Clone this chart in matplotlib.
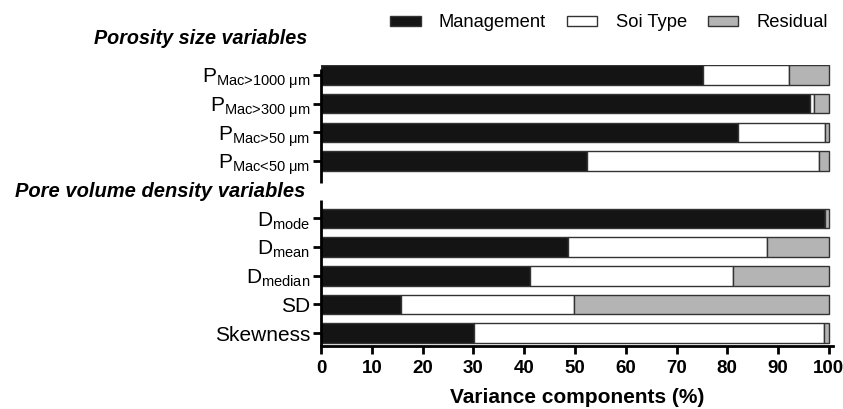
import matplotlib
matplotlib.use("Agg")
import matplotlib.pyplot as plt
import numpy as np

plt.rcParams['font.family'] = ['Liberation Sans', 'DejaVu Sans']
plt.rcParams['mathtext.fontset'] = 'custom'
plt.rcParams['mathtext.rm'] = 'Liberation Sans'
plt.rcParams['mathtext.it'] = 'Liberation Sans:italic'

# variance components (%)
labels = [r'P$_{\text{Mac>1000 μm}}$', r'P$_{\text{Mac>300 μm}}$',
          r'P$_{\text{Mac>50 μm}}$', r'P$_{\text{Mac<50 μm}}$',
          r'D$_{\mathrm{mode}}$', r'D$_{\mathrm{mean}}$', r'D$_{\mathrm{median}}$',
          'SD', 'Skewness']
management = [75.2, 96.3, 82.2, 52.3, 99.3, 48.6, 41.2, 15.7, 30.2]
soil_type = [16.9, 0.8, 17.0, 45.8, 0.0, 39.3, 40.0, 34.2, 68.9]
residual = [7.9, 2.9, 0.8, 1.9, 0.7, 12.1, 18.8, 50.1, 0.9]

# slot 4 left empty for the second group heading
ypos = np.array([0, 1, 2, 3, 5, 6, 7, 8, 9])

fig = plt.figure(figsize=(8.43, 4.09), dpi=100)
ax = fig.add_axes([0.381, 0.154, 0.607, 0.687])

mg = np.array(management)
st = np.array(soil_type)
rs = np.array(residual)
edge = '#333333'
h = 0.68
ax.barh(ypos, mg, height=h, color='#141414', edgecolor=edge, lw=1, label='Management')
ax.barh(ypos, st, left=mg, height=h, color='white', edgecolor=edge, lw=1, label='Soi Type')
ax.barh(ypos, rs, left=mg + st, height=h, color='#b4b4b4', edgecolor=edge, lw=1, label='Residual')

ax.set_xlim(0, 100.8)
ax.set_ylim(9.45, -0.35)
ax.set_yticks(ypos)
ax.set_yticklabels(labels, fontsize=15)
ax.set_xticks(np.arange(0, 101, 10))
ax.set_xticklabels([str(v) for v in range(0, 101, 10)], fontsize=13.5, fontweight='bold')
ax.tick_params(axis='y', length=6, width=2, pad=2)
ax.tick_params(axis='x', length=6, width=2, pad=4)
ax.set_xlabel('Variance components (%)', fontsize=15, fontweight='bold', labelpad=8)

for s in ['top', 'right', 'left']:
    ax.spines[s].set_visible(False)
ax.spines['bottom'].set_linewidth(2)

# broken left axis
ax.plot([0, 0], [-0.2, 3.77], color='black', lw=2, clip_on=False, solid_capstyle='butt')
ax.plot([0, 0], [4.37, 9.45], color='black', lw=2, clip_on=False, solid_capstyle='butt')

fig.text(0.365, 0.907, 'Porosity size variables', ha='right', va='center',
         fontsize=14.2, fontweight='bold', style='italic')
fig.text(0.362, 0.531, 'Pore volume density variables', ha='right', va='center',
         fontsize=14.5, fontweight='bold', style='italic')

fig.legend(loc='upper right', bbox_to_anchor=(1.002, 1.005), ncol=3, frameon=False,
           fontsize=13.2, handlelength=1.65, handleheight=0.5, columnspacing=1.15,
           handletextpad=1.0)

fig.savefig('out.png', dpi=100)
